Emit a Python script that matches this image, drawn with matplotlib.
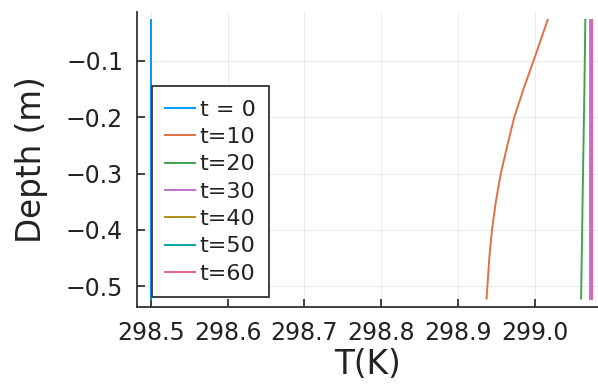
import matplotlib
matplotlib.use("Agg")
import matplotlib.pyplot as plt

# depth of the profile points (m)
depth = [-0.027, -0.1, -0.15, -0.2, -0.25, -0.3, -0.35, -0.4, -0.45, -0.522]

# temperature profiles (K)
labels = ["t = 0", "t=10", "t=20", "t=30", "t=40", "t=50", "t=60"]
T0 = [298.5] * 10
T10 = [299.0165, 298.998, 298.985, 298.973, 298.964, 298.9555, 298.949, 298.944, 298.9405, 298.937]
T20 = [299.0655, 299.0648, 299.0643, 299.0637, 299.0631, 299.0625, 299.0619, 299.0614, 299.0608, 299.0600]
T30 = [299.0722] * 10
T40 = [299.0745] * 10
T50 = [299.0745] * 10
T60 = [299.0745] * 10
profiles = [T0, T10, T20, T30, T40, T50, T60]

colors = ["#009AFA", "#E36F47", "#3EA44E", "#C371D2", "#AC8E18", "#00AAAE", "#ED5E93"]

fig = plt.figure(figsize=(5.98, 3.90), dpi=100)
ax = fig.add_axes([137 / 598, 1 - 307 / 390, 461 / 598, 295 / 390])

for T, lab, c in zip(profiles, labels, colors):
    ax.plot(T, depth, color=c, lw=1.4, label=lab)

ax.set_xlim(298.482, 299.082)
ax.set_ylim(-0.537, -0.013)
ax.set_xticks([298.5, 298.6, 298.7, 298.8, 298.9, 299.0])
ax.set_xticklabels(["298.5", "298.6", "298.7", "298.8", "298.9", "299.0"])
ax.set_yticks([-0.1, -0.2, -0.3, -0.4, -0.5])
ax.set_yticklabels(["\u22120.1", "\u22120.2", "\u22120.3", "\u22120.4", "\u22120.5"])

ax.grid(True, color="black", alpha=0.08, lw=0.8)
for s in ["top", "right"]:
    ax.spines[s].set_visible(False)
for s in ["left", "bottom"]:
    ax.spines[s].set_color("#333333")
    ax.spines[s].set_linewidth(1.3)
ax.tick_params(direction="in", length=6, width=1.3, color="#333333",
               labelsize=17, labelcolor="#222222", pad=10)

ax.set_xlabel("T(K)", fontsize=23.5, color="#222222", labelpad=2)
ax.set_ylabel("Depth (m)", fontsize=23.5, color="#222222", labelpad=13)

leg = ax.legend(loc="lower left", bbox_to_anchor=(0.0325, 0.034), borderaxespad=0,
                fontsize=16, handlelength=1.35, handletextpad=0.2,
                labelspacing=0.33, fancybox=False, framealpha=1,
                edgecolor="#333333", borderpad=0.6)
leg.get_frame().set_linewidth(1.3)
for t in leg.get_texts():
    t.set_color("#222222")

fig.savefig("out.png", dpi=100)
